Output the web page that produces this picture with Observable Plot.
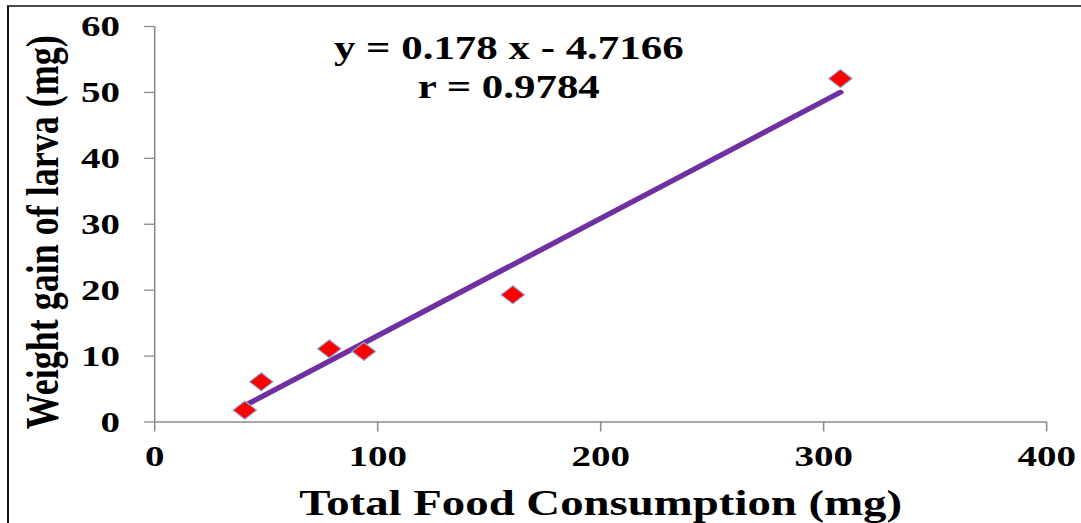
<!DOCTYPE html>
<html><head><meta charset="utf-8">
<script src="https://cdn.jsdelivr.net/npm/d3@7"></script>
<script src="https://cdn.jsdelivr.net/npm/@observablehq/plot@0.6"></script>
<style>
html,body{margin:0;padding:0;background:#fff;}
#wrap{position:relative;width:1081px;height:523px;overflow:hidden;background:#fff;}
#chart{position:absolute;left:0;top:0;width:831.5px;transform:scaleX(1.3);transform-origin:0 0;}
#frame{position:absolute;left:7px;top:5px;width:1100px;height:600px;border-top:2px solid #4a4a4a;border-left:2px solid #111;pointer-events:none;}
</style></head>
<body><div id="wrap"><div id="chart"></div><div id="frame"></div></div>
<script>
// Data
const consumption = [40.4, 47.8, 78.3, 93.8, 160.6, 307.5];
const weightGain  = [1.8, 6.1, 11.1, 10.7, 19.3, 52.1];
const xTicks = [0, 100, 200, 300, 400];
const yTicks = [0, 10, 20, 30, 40, 50, 60];
const slope = 0.178;
const intercept = -4.7166;
const equationLines = ["y = 0.178 x - 4.7166", "r = 0.9784"];
const xTitle = "Total Food Consumption (mg)";
const yTitle = "Weight gain of larva (mg)";

const points = consumption.map((x, i) => ({x, y: weightGain[i]}));
const fit = d3.extent(consumption).map(x => ({x, y: slope * x + intercept}));

const serif = "'Liberation Serif', 'Times New Roman', serif";
const axisGray = "#8a8a8a";

const chart = Plot.plot({
  width: 831.5,
  height: 523,
  marginLeft: 118.5,
  marginRight: 26.9,
  marginTop: 26,
  marginBottom: 101.5,
  style: {fontFamily: serif, background: "transparent"},
  x: {domain: [0, 400]},
  y: {domain: [0, 60]},
  marks: [
    Plot.ruleY([0], {stroke: axisGray, strokeWidth: 1.3}),
    Plot.ruleX([0], {stroke: axisGray, strokeWidth: 1.2}),
    Plot.axisX({ticks: xTicks, tickSize: 10, tickPadding: 13, stroke: axisGray, strokeWidth: 1.2,
      fill: "black", fontSize: 30, fontWeight: "bold", fontFamily: serif, label: null, tickFormat: d => String(d)}),
    Plot.axisY({ticks: yTicks, tickSize: 7.7, tickPadding: 19, stroke: axisGray, strokeWidth: 1.3,
      fill: "black", fontSize: 30, fontWeight: "bold", fontFamily: serif, label: null, tickFormat: d => String(d)}),
    Plot.line(fit, {x: "x", y: "y", stroke: "#7030A0", strokeWidth: 5}),
    Plot.dot(points, {x: "x", y: "y", symbol: "diamond2", r: 8.2, fill: "#FF0000", stroke: "#8EB4E3", strokeWidth: 1}),
    Plot.text([equationLines[0]], {frameAnchor: "top", dx: -70.7, dy: 32, lineAnchor: "bottom",
      fontSize: 33, fontWeight: "bold", fontFamily: serif, fill: "black"}),
    Plot.text([equationLines[1]], {frameAnchor: "top", dx: -70.7, dy: 71, lineAnchor: "bottom",
      fontSize: 33, fontWeight: "bold", fontFamily: serif, fill: "black"}),
    Plot.text([xTitle], {frameAnchor: "bottom", dy: 92.5, lineAnchor: "bottom",
      fontSize: 36, fontWeight: "bold", fontFamily: serif, fill: "black"}),
    Plot.text([yTitle], {frameAnchor: "left", textAnchor: "middle", rotate: -90, dx: -74, dy: 8, lineAnchor: "bottom",
      fontSize: 36, fontWeight: "bold", fontFamily: serif, fill: "black"})
  ]
});
document.getElementById("chart").appendChild(chart);
</script>
</body></html>
